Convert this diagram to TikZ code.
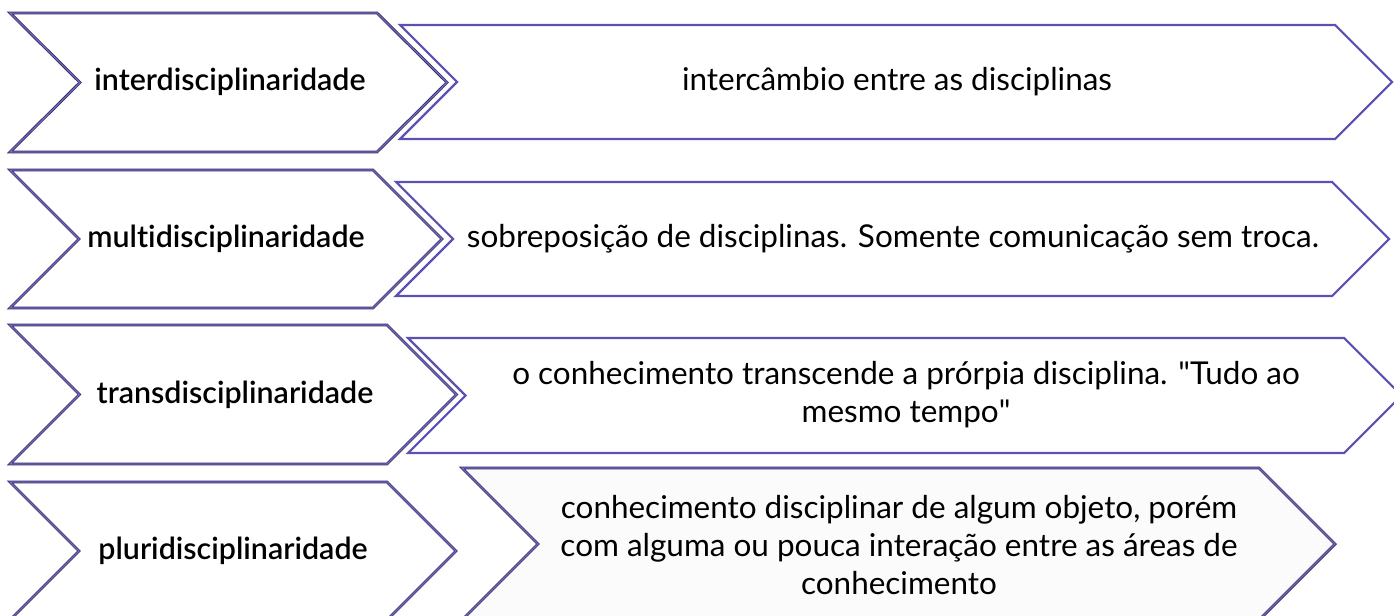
\documentclass[tikz,border=0pt]{standalone}
\usepackage{fontspec}
\setmainfont{Lato}[Ligatures={TeX,NoCommon}]
\newfontfamily\labelfont{Lato Semibold}[Ligatures={TeX,NoCommon}]
\definecolor{edgepurple}{HTML}{5B50B4}
\definecolor{edgedark}{HTML}{2E2A62}
\definecolor{lightfill}{HTML}{FBFBFB}
\begin{document}
\begin{tikzpicture}[x=0.75pt,y=-0.75pt,
  plainedge/.style={draw=edgepurple,line width=1.6pt,line join=miter,fill=white},
  darkedge/.style={draw=edgedark,line width=2.1pt,line join=miter},
  litedge/.style={draw=edgepurple!85!white,line width=0.9pt,line join=miter},
  labeltext/.style={font=\fontsize{22.8}{27}\labelfont,inner sep=0pt},
  desctext/.style={font=\fontsize{23.6}{28.5}\selectfont,align=center,inner sep=0pt}]
\useasboundingbox (0,0) rectangle (1394,616);
\clip (0,0) rectangle (1394,616);
% chevron: #1 x1, #2 y1, #3 x2, #4 y2, #5 depth
\newcommand\chevpath[5]{(#1,#2) -- (#3,#2) -- ({#3+#5},{(#2+#4)/2}) -- (#3,#4) -- (#1,#4) -- ({#1+#5},{(#2+#4)/2}) -- cycle}
\newcommand\shadechev[6][white]{%
  \fill[#1] \chevpath{#2}{#3}{#4}{#5}{#6};
  \draw[darkedge] \chevpath{#2}{#3}{#4}{#5}{#6};
  \draw[litedge] \chevpath{#2}{#3}{#4}{#5}{#6};}
% row 1
\shadechev{10}{13}{377}{152}{70}
\draw[plainedge] \chevpath{400}{25}{1335}{139}{57};
\node[labeltext] (l1) at (230,82) {interdisciplinaridade};
\node[desctext] (d1) at (897,82) {intercâmbio entre as disciplinas};
% row 2
\shadechev{10}{170}{373}{308}{69}
\draw[plainedge] \chevpath{396}{182}{1332}{296}{57};
\node[labeltext] (l2) at (226,239) {multidisciplinaridade};
\node[desctext] (d2) at (893,239) {sobreposição de disciplinas. Somente comunicação sem troca.};
% row 3
\shadechev{10}{325}{387}{464}{69.5}
\draw[plainedge] \chevpath{408}{338}{1344}{453}{57.5};
\node[labeltext] (l3) at (235,395) {transdisciplinaridade};
\node[desctext] (d3) at (906,395) {o conhecimento transcende a prórpia disciplina. \textquotedbl Tudo ao\\mesmo tempo\textquotedbl};
% row 4
\shadechev{10}{482}{387}{620}{69}
\shadechev[lightfill]{462}{468}{1259}{620}{76}
\node[labeltext] (l4) at (233,551) {pluridisciplinaridade};
\node[desctext] (d4) at (899,545) {conhecimento disciplinar de algum objeto, porém\\com alguma ou pouca interação entre as áreas de\\conhecimento};
\end{tikzpicture}
\end{document}
